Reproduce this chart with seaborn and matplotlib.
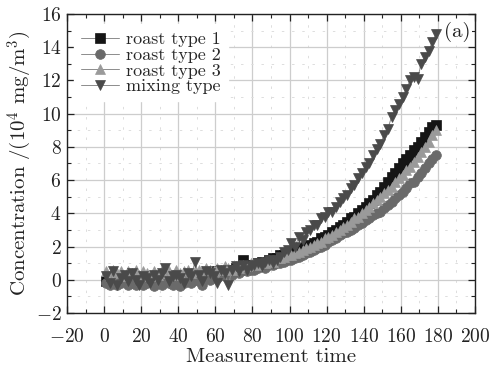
import numpy as np
import pandas as pd
import matplotlib
matplotlib.use("Agg")
import matplotlib.pyplot as plt
import seaborn as sns
from matplotlib.ticker import MultipleLocator

# ---- data ----
time_s = [1, 3, 5, 7, 9, 11, 13, 15, 17, 19, 21, 23, 25, 27, 29, 31, 33, 35, 37, 39,
          41, 43, 45, 47, 49, 51, 53, 55, 57, 59, 61, 63, 65, 67, 69, 71, 73, 75, 77, 79,
          81, 83, 85, 87, 89, 91, 93, 95, 97, 99, 101, 103, 105, 107, 109, 111, 113, 115, 117, 119,
          121, 123, 125, 127, 129, 131, 133, 135, 137, 139, 141, 143, 145, 147, 149, 151, 153, 155, 157, 159,
          161, 163, 165, 167, 169, 171, 173, 175, 177, 179]

roast1 = [-0.1, 0.1, -0.2, 0.0, 0.1, -0.1, 0.0, 0.1, -0.1, 0.0, 0.1, 0.0, -0.1, 0.1, 0.0, 0.1, 0.0, 0.2, 0.1, 0.0,
          0.2, 0.1, 0.2, 0.3, 0.2, 0.3, 0.2, 0.4, 0.3, 0.4, 0.5, 0.4, 0.5, 0.6, 0.5, 0.7, 0.6, 1.2, 0.7, 0.9,
          0.9, 1.0, 1.1, 1.1, 1.2, 1.3, 1.3, 1.5, 1.5, 1.6, 1.7, 1.8, 1.8, 1.9, 2.0, 2.1, 2.2, 2.3, 2.5, 2.6,
          2.7, 2.9, 3.0, 3.2, 3.3, 3.5, 3.7, 3.8, 4.0, 4.2, 4.4, 4.6, 4.8, 5.1, 5.3, 5.6, 5.9, 6.2, 6.4, 6.7,
          7.0, 7.3, 7.5, 7.8, 8.0, 8.3, 8.6, 8.9, 9.2, 9.3]

roast2 = [-0.2, -0.3, -0.1, -0.3, -0.2, -0.1, -0.3, -0.2, -0.3, -0.1, -0.3, -0.2, -0.1, -0.4, -0.2, -0.3, -0.1, -0.2, -0.3, -0.1,
          -0.4, -0.2, -0.1, -0.2, 0.0, -0.1, -0.3, 0.1, 0.0, 0.2, 0.1, 0.3, 0.2, 0.4, 0.3, 0.5, 0.4, 0.6, 0.5, 0.6,
          0.6, 0.7, 0.8, 0.7, 0.9, 0.9, 1.0, 1.0, 1.1, 1.2, 1.2, 1.3, 1.4, 1.5, 1.6, 1.7, 1.8, 1.9, 2.0, 2.1,
          2.3, 2.4, 2.5, 2.7, 2.8, 2.9, 3.0, 3.1, 3.3, 3.4, 3.6, 3.7, 3.9, 4.0, 4.1, 4.3, 4.5, 4.7, 4.9, 5.1,
          5.3, 5.5, 5.8, 5.9, 6.2, 6.4, 6.7, 7.0, 7.3, 7.5]

roast3 = [0.5, 0.3, 0.6, 0.4, 0.5, 0.2, 0.5, 0.4, 0.6, 0.3, 0.5, 0.4, 0.2, 0.5, 0.3, 0.6, 0.4, 0.5, 0.3, 0.6,
          0.4, 0.5, 0.6, 0.4, 0.5, 0.6, 0.5, 0.7, 0.6, 0.5, 0.7, 0.6, 0.8, 0.7, 0.6, 0.8, 0.7, 0.9, 0.8, 1.0,
          1.0, 0.9, 1.1, 1.0, 1.2, 1.1, 1.3, 1.3, 1.4, 1.5, 1.5, 1.6, 1.7, 1.8, 1.9, 2.0, 2.1, 2.2, 2.3, 2.5,
          2.6, 2.7, 2.9, 3.0, 3.2, 3.3, 3.5, 3.7, 3.8, 4.0, 4.2, 4.4, 4.6, 4.8, 5.0, 5.2, 5.4, 5.6, 5.9, 6.1,
          6.3, 6.6, 6.8, 7.1, 7.4, 7.7, 8.0, 8.3, 8.7, 9.0]

mixing = [0.2, -0.2, 0.5, -0.3, 0.1, 0.3, -0.1, 0.4, 0.0, -0.3, 0.2, 0.1, -0.2, 0.3, 0.0, 0.4, 0.7, -0.1, 0.2, 0.3,
          0.1, -0.2, 0.4, 0.2, 1.1, 0.3, -0.1, 0.5, 0.4, 0.2, -0.2, 0.6, 0.4, -0.3, 0.6, 0.8, 0.5, 0.9, 0.6, 0.8,
          0.9, 1.0, 0.8, 1.1, 1.2, 1.0, 1.2, 1.4, 1.7, 1.8, 2.2, 2.0, 2.6, 2.4, 2.9, 3.0, 3.3, 3.3, 3.7, 3.8,
          4.1, 4.1, 4.4, 4.7, 4.9, 5.1, 5.5, 5.7, 6.1, 6.4, 6.8, 7.0, 7.5, 7.9, 8.2, 8.7, 9.1, 9.8, 10.2, 10.6,
          11.0, 11.5, 12.0, 12.2, 12.1, 13.0, 13.4, 13.8, 14.3, 14.8]

series_names = ["roast type 1", "roast type 2", "roast type 3", "mixing type"]
series_values = [roast1, roast2, roast3, mixing]

x_ticks = [-20, 0, 20, 40, 60, 80, 100, 120, 140, 160, 180, 200]
y_ticks = [-2, 0, 2, 4, 6, 8, 10, 12, 14, 16]

df = pd.concat([pd.DataFrame({"time": time_s, "conc": v, "series": n})
                for n, v in zip(series_names, series_values)], ignore_index=True)

# ---- style ----
sns.set_style("white")
plt.rcParams["font.family"] = ["cmr10", "DejaVu Serif"]
plt.rcParams["mathtext.fontset"] = "cm"
plt.rcParams["axes.formatter.use_mathtext"] = True
plt.rcParams["axes.unicode_minus"] = True

marker_style = {
    "roast type 1": dict(marker="s", color="#151515"),
    "roast type 2": dict(marker="o", color="#6a6a6a"),
    "roast type 3": dict(marker="^", color="#9a9a9a"),
    "mixing type": dict(marker="v", color="#4a4a4a"),
}

fig = plt.figure(figsize=(4.91, 3.67), dpi=100)
ax = fig.add_axes([0.1365, 0.1471, 0.8309, 0.8148])

for name in series_names:
    st = marker_style[name]
    sub = df[df["series"] == name]
    sns.lineplot(data=sub, x="time", y="conc", ax=ax, color="#8c8c8c", linewidth=0.7,
                 marker=st["marker"], markersize=7, markerfacecolor=st["color"],
                 markeredgecolor=st["color"], markeredgewidth=0.5, label=name,
                 estimator=None, sort=False, zorder=3)

ax.set_xlim(-20, 200)
ax.set_ylim(-2, 16)
ax.set_xticks(x_ticks)
ax.set_yticks(y_ticks)
ax.xaxis.set_minor_locator(MultipleLocator(10))
ax.yaxis.set_minor_locator(MultipleLocator(1))
ax.grid(which="major", color="#cdcdcd", linewidth=0.9, linestyle="-", zorder=0)
ax.grid(which="minor", color="#dddddd", linewidth=0.7, linestyle=(0, (2.5, 8)), zorder=0)
ax.set_axisbelow(True)
ax.tick_params(which="both", direction="in", top=True, right=True, bottom=True, left=True,
               labelsize=14, colors="#222222")
ax.tick_params(axis="x", pad=11)
ax.tick_params(axis="y", pad=4)
ax.tick_params(which="major", length=5, width=0.9)
ax.tick_params(which="minor", length=3, width=0.8)
for sp in ax.spines.values():
    sp.set_color("#222222")
    sp.set_linewidth(1.0)

ax.set_xlabel("Measurement time", fontsize=15, labelpad=1, color="#222222")
ax.set_ylabel(r"Concentration /(10$^4$ mg/m$^3$)", fontsize=15, labelpad=1, color="#222222")

leg = ax.legend(loc="upper left", bbox_to_anchor=(0.017, 0.965), frameon=True, fontsize=13,
                handlelength=2.1, handletextpad=0.4, labelspacing=0.0, borderpad=0.4,
                borderaxespad=0.0)
leg.get_frame().set_edgecolor("white")
leg.get_frame().set_facecolor("white")
leg.get_frame().set_alpha(1.0)

ax.text(0.99, 0.975, "(a)", transform=ax.transAxes, ha="right", va="top", fontsize=15,
        color="#222222", bbox=dict(facecolor="white", edgecolor="none", pad=1))

fig.savefig("out.png", dpi=100)
